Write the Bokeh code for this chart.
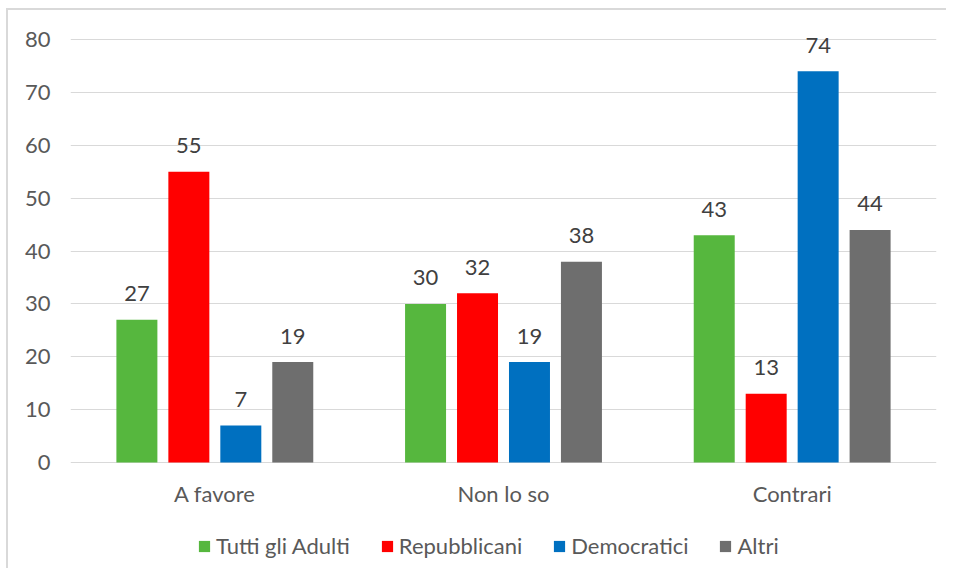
from bokeh.plotting import figure
from bokeh.models import ColumnDataSource, FactorRange, Range1d, Legend, LegendItem, FixedTicker
from bokeh.transform import dodge
from bokeh.core.properties import value
from bokeh.embed import file_html
from bokeh.resources import INLINE

categories = ["A favore", "Non lo so", "Contrari"]
series_names = ["Tutti gli Adulti", "Repubblicani", "Democratici", "Altri"]
tutti = [27, 30, 43]
repubblicani = [55, 32, 13]
democratici = [7, 19, 74]
altri = [19, 38, 44]
y_ticks = [0, 10, 20, 30, 40, 50, 60, 70, 80]

colors = ["#56b73e", "#ff0000", "#0070c0", "#6e6e6e"]
offsets = [-0.27, -0.09, 0.09, 0.27]
FONT = "Lato"
FS = "22px"

source = ColumnDataSource(dict(cat=categories, tutti=tutti, repubblicani=repubblicani,
                               democratici=democratici, altri=altri, zero=[0] * len(categories)))
keys = ["tutti", "repubblicani", "democratici", "altri"]

p = figure(width=940, height=560, x_range=FactorRange(*categories, range_padding=0),
           y_range=Range1d(-20.43, 84), output_backend="svg", toolbar_location=None,
           x_axis_location=None,
           min_border_left=62, min_border_right=12, min_border_top=8, min_border_bottom=0,
           styles={"border-left": "2px solid #d9d9d9", "border-top": "2px solid #d9d9d9",
                   "margin-left": "6px", "margin-top": "8px"})
p.outline_line_color = None
p.background_fill_color = "white"
p.border_fill_color = "white"

renderers = []
for k, c, off in zip(keys, colors, offsets):
    r = p.vbar(x=dodge("cat", off, range=p.x_range), top=k, width=0.142, source=source,
               fill_color=c, line_color=None)
    renderers.append(r)
    p.text(x=dodge("cat", off, range=p.x_range), y=k, text=k, source=source,
           text_align="center", text_baseline="middle", y_offset=-26,
           text_font=value(FONT), text_font_size=FS, text_color="#404040")

# category labels (x axis)
p.text(x="cat", y="zero", text="cat", source=source, text_align="center",
       text_baseline="middle", y_offset=31, text_font=value(FONT), text_font_size=FS,
       text_color="#595959")

p.xgrid.grid_line_color = None
p.ygrid.ticker = FixedTicker(ticks=y_ticks)
p.ygrid.grid_line_color = "#d9d9d9"
p.ygrid.grid_line_width = 1
p.yaxis.ticker = FixedTicker(ticks=y_ticks)
p.yaxis.axis_line_color = None
p.yaxis.major_tick_line_color = None
p.yaxis.minor_tick_line_color = None
p.yaxis.major_label_standoff = 14
p.yaxis.major_label_text_font = FONT
p.yaxis.major_label_text_font_size = FS
p.yaxis.major_label_text_color = "#595959"

legend = Legend(items=[LegendItem(label=n, renderers=[r]) for n, r in zip(series_names, renderers)],
                orientation="horizontal", location=(127, 11), padding=0, margin=0,
                border_line_color=None, background_fill_alpha=0,
                glyph_width=14, glyph_height=14, label_standoff=5, spacing=30,
                label_text_font=FONT, label_text_font_size=FS, label_text_color="#595959")
p.add_layout(legend, "center")

open("out.html", "w").write(file_html(p, INLINE))
